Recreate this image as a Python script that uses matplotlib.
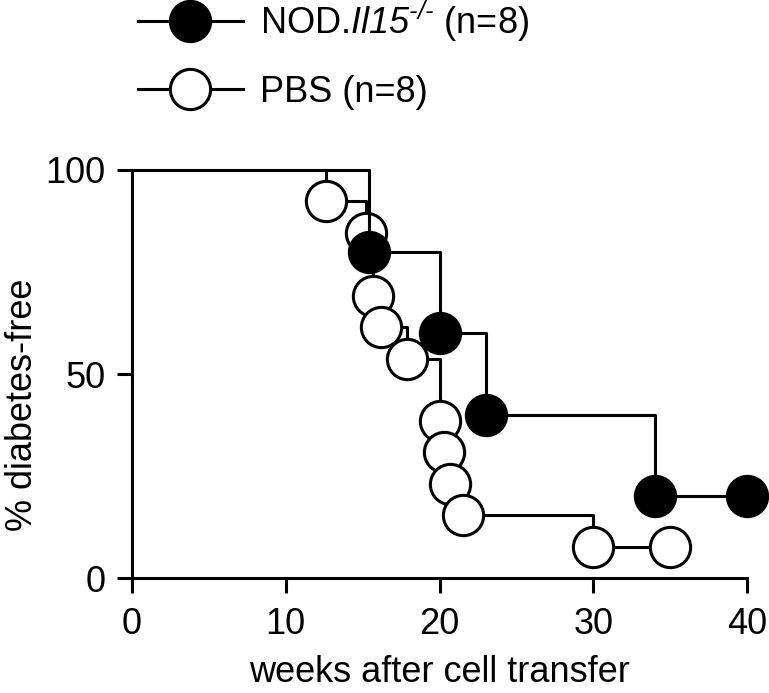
import matplotlib
matplotlib.use("Agg")
import matplotlib.pyplot as plt
from matplotlib.lines import Line2D

plt.rcParams["font.family"] = ["Liberation Sans", "DejaVu Sans"]
plt.rcParams["mathtext.fontset"] = "custom"
plt.rcParams["mathtext.rm"] = "Liberation Sans:italic"
plt.rcParams["mathtext.it"] = "Liberation Sans:italic"

# ---- data ----
weeks_il15 = [15.4, 20.0, 23.0, 34.0, 40.0]
free_il15 = [80.0, 60.0, 40.0, 20.0, 20.0]

weeks_pbs = [12.6, 15.2, 15.7, 16.2, 17.9, 20.0, 20.3, 20.7, 21.5, 30.0, 35.0]
free_pbs = [92.3, 84.6, 69.2, 61.5, 53.8, 38.5, 30.8, 23.1, 15.4, 7.7, 7.7]

label_il15 = r"NOD.$Il15^{\text{-/-}}$ (n=8)"
label_pbs = "PBS (n=8)"

xticks = [0, 10, 20, 30, 40]
yticks = [0, 50, 100]

# ---- style ----
lw = 2.2
ms = 29
mew = 2.2
fs = 26

fig = plt.figure(figsize=(7.69, 6.93), dpi=100)
ax = fig.add_axes([0.1717, 0.1659, 0.7997, 0.5888])

# PBS (open) first, NOD.Il15-/- on top
ax.step([0] + weeks_pbs, [100] + free_pbs, where="post", color="k", lw=lw,
        zorder=2, clip_on=False)
ax.plot(weeks_pbs, free_pbs, "o", ms=ms, mfc="white", mec="k", mew=mew,
        zorder=3, clip_on=False)

ax.step([0] + weeks_il15, [100] + free_il15, where="post", color="k", lw=lw,
        zorder=4, clip_on=False)
ax.plot(weeks_il15, free_il15, "o", ms=ms, mfc="k", mec="k", mew=mew,
        zorder=5, clip_on=False)

ax.set_xlim(0, 40)
ax.set_ylim(0, 100)
ax.set_xticks(xticks)
ax.set_yticks(yticks)

for s in ["top", "right"]:
    ax.spines[s].set_visible(False)
for s in ["left", "bottom"]:
    ax.spines[s].set_linewidth(lw)

ax.tick_params(direction="out", width=lw, length=11, labelsize=fs)
ax.tick_params(axis="x", pad=10)
ax.tick_params(axis="y", pad=8)

ax.set_xlabel("weeks after cell transfer", fontsize=fs, labelpad=9)
ax.set_ylabel("% diabetes-free", fontsize=fs)
ax.yaxis.set_label_coords(-0.149, 0.424)

# ---- legend ----
h_il15 = Line2D([], [], color="k", lw=lw, marker="o", ms=ms, mfc="k", mec="k", mew=mew)
h_pbs = Line2D([], [], color="k", lw=lw, marker="o", ms=ms, mfc="white", mec="k", mew=mew)
fig.legend([h_il15, h_pbs], [label_il15, label_pbs], loc="upper left",
           bbox_to_anchor=(0.1795, 1.002), frameon=False, fontsize=fs,
           handlelength=2.9, handletextpad=0.47, labelspacing=0.87,
           borderpad=0, borderaxespad=0)

plt.savefig("out.png", dpi=100)
